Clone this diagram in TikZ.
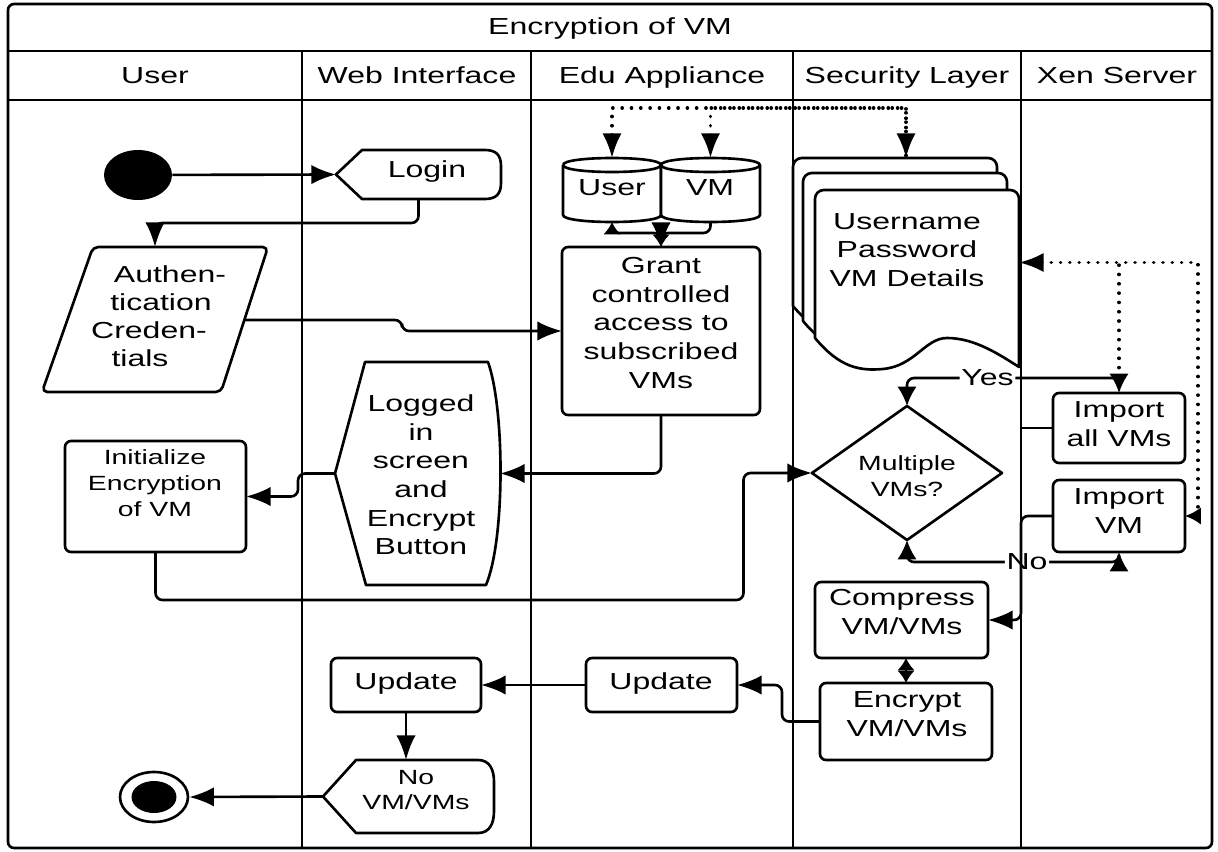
\documentclass[tikz,border=0pt]{standalone}
\usepackage{fontspec}
\setmainfont{Liberation Sans}[FakeStretch=1.38]
\usetikzlibrary{arrows.meta,shapes.geometric,fit}

\newcommand{\bigtxt}{\fontsize{13.2pt}{16.3pt}\selectfont}
\newcommand{\smalltxt}{\fontsize{11.7pt}{14.7pt}\selectfont}

\begin{document}
\begin{tikzpicture}[x=0.02cm, y=-0.02cm,
  ln/.style={line width=1.5pt},
  shp/.style={ln, draw, fill=white, line join=round},
  boxnode/.style={draw, ln, rounded corners=3.5pt, inner sep=0pt, outer sep=0pt},
  hold/.style={inner sep=0pt, outer sep=0pt},
  txt/.style={font=\bigtxt, align=center, inner sep=0pt},
  head/.style={font=\bigtxt, inner sep=0pt, anchor=base},
  stxt/.style={font=\smalltxt, align=center, inner sep=0pt},
  tip/.style={-{Latex[length=14pt,width=11pt]}},
  arr/.style={ln, tip, rounded corners=4pt},
  biarr/.style={ln, {Latex[length=11pt,width=11pt]}-{Latex[length=11pt,width=11pt]}, rounded corners=4pt},
  tinyarr/.style={ln, {Latex[length=7pt,width=10pt]}-{Latex[length=7pt,width=10pt]}},
  dots/.style={line width=2pt, dash pattern=on 0.1pt off 5.2pt, line cap=round},
  lbl/.style={fill=white, font=\bigtxt, inner sep=1pt}
]
\useasboundingbox (0,0) rectangle (1218,852);

% ---------- swimlane frame ----------
\draw[ln, rounded corners=3.5pt] (8,4) rectangle (1212,848);
\draw[ln] (8,51) -- (1212,51);
\draw[ln] (8,100) -- (1212,100);

\node[head] (title) at (610,34) {Encryption of VM};
\node[head] (h-user) at (155,83) {User};
\node[head] (h-web)  at (417,83) {Web Interface};
\node[head] (h-edu)  at (662,83) {Edu Appliance};
\node[head] (h-sec)  at (907,83) {Security Layer};
\node[head] (h-xen)  at (1117,83) {Xen Server};

% ---------- User lane ----------
\node[fill=black, ellipse, minimum width=1.36cm, minimum height=1.0cm, inner sep=0pt] (start) at (138,175) {};

\draw[shp, rounded corners=3pt] (93,247) -- (268,247) -- (221,392) -- (42,392) -- cycle;
\node[hold, fit={(42,247)(268,392)}] (auth) {};
\coordinate (authR) at (244,320);
\node[txt] (auth1) at (170,274) {Authen-};
\node[txt] (auth2) at (161,302) {tication};
\node[txt] (auth3) at (149,330) {Creden-};
\node[txt] (auth4) at (140,358) {tials};

\node[boxnode, fit={(65,441)(246,552)}] (init) {};
\node[stxt] (init-t) at (155,483) {Initialize\\Encryption\\of VM};

\node[draw, ln, ellipse, minimum width=1.36cm, minimum height=1.0cm, inner sep=0pt] (endc) at (154,797) {};
\node[fill=black, ellipse, minimum width=0.9cm, minimum height=0.64cm, inner sep=0pt] (endi) at (endc) {};

% ---------- Web Interface lane ----------
\draw[shp] (336,174.5) -- (362,150) -- (485,150)
  .. controls (496,150) and (501,155) .. (501,166) -- (501,183)
  .. controls (501,194) and (496,199) .. (485,199) -- (362,199) -- cycle;
\node[hold, fit={(336,150)(501,199)}] (login) {};
\node[txt] (login-t) at (427,172) {Login};

\draw[shp] (365,362) -- (488,362)
  .. controls (505,410) and (505,540) .. (486,585)
  -- (366,585) -- (335,473.5) -- cycle;
\node[hold, fit={(335,362)(500,585)}] (logged) {};
\node[txt] (logged-t) at (421,475) {Logged\\in\\screen\\and\\Encrypt\\Button};

\node[boxnode, fit={(331,658)(481,712)}] (upd1) {};
\node[txt] (upd1-t) at (406,683) {Update};

\draw[shp] (323,796.5) -- (356,760) -- (478,760)
  .. controls (490,760) and (494,770) .. (494,782) -- (494,811)
  .. controls (494,823) and (490,833) .. (478,833) -- (356,833) -- cycle;
\node[hold, fit={(323,760)(494,833)}] (novm) {};
\node[stxt] (novm-t) at (416,790) {No\\VM/VMs};

% ---------- Edu Appliance lane ----------
\draw[shp] (563,165) -- (563,215) .. controls (563,224.33) and (661,224.33) .. (661,215) -- (661,165);
\draw[shp] (563,165) .. controls (563,155.67) and (661,155.67) .. (661,165)
  .. controls (661,174.33) and (563,174.33) .. (563,165);
\node[hold, fit={(563,158)(661,222)}] (ucyl) {};
\node[txt] (ucyl-t) at (612,188) {User};

\draw[shp] (661,165) -- (661,215) .. controls (661,224.33) and (760,224.33) .. (760,215) -- (760,165);
\draw[shp] (661,165) .. controls (661,155.67) and (760,155.67) .. (760,165)
  .. controls (760,174.33) and (661,174.33) .. (661,165);
\node[hold, fit={(661,158)(760,222)}] (vcyl) {};
\node[txt] (vcyl-t) at (710,188) {VM};

\node[boxnode, fit={(562,247)(760,415)}] (grant) {};
\node[txt] (grant-t) at (661,323) {Grant\\controlled\\access to\\subscribed\\VMs};

\node[boxnode, fit={(586,658)(737,712)}] (upd2) {};
\node[txt] (upd2-t) at (661,683) {Update};

% ---------- Security Layer lane ----------
\foreach \dx/\dy in {-22/-32, -12/-17, 0/0} {
  \begin{scope}[shift={(\dx,\dy)}]
    \draw[shp] (815,338) [rounded corners=5pt] -- (815,190) -- (1019,190) [sharp corners] -- (1019,367)
      .. controls (1000,355) and (975,338) .. (947,338)
      .. controls (925,338) and (915,366) .. (883,369)
      .. controls (860,371) and (840,368) .. (815,338) -- cycle;
  \end{scope}
}
\node[hold, fit={(793,158)(1019,367)}] (doc) {};
\node[txt] (doc-t) at (907,250) {Username\\Password\\VM Details};

\draw[shp] (812,473) -- (907,406) -- (1002,473) -- (907,540) -- cycle;
\node[hold, fit={(812,406)(1002,540)}] (dia) {};
\node[stxt] (dia-t) at (907,476) {Multiple\\VMs?};

\node[boxnode, fit={(815,582)(988,658)}] (comp) {};
\node[txt] (comp-t) at (902,612) {Compress\\VM/VMs};

\node[boxnode, fit={(820,683)(992,760)}] (encr) {};
\node[txt] (encr-t) at (907,714) {Encrypt\\VM/VMs};

% ---------- Xen Server lane ----------
\node[boxnode, fit={(1053,393)(1185,463)}] (impall) {};
\node[txt] (impall-t) at (1119,424) {Import\\all VMs};

\node[boxnode, fit={(1053,480)(1185,552)}] (impvm) {};
\node[txt] (impvm-t) at (1119,511) {Import\\VM};

% ---------- lane separators ----------
\foreach \lx in {302,531,793,1021} {
  \draw[ln] (\lx,51) -- (\lx,848);
}

% ---------- control flow ----------
\draw[arr] (start) -- (login.west);
\draw[arr] (login.south) -- ++(0,24) -| (auth.north);
\draw[arr] (authR) -- ++(158,0) |- (grant.west);
\draw[arr] (vcyl.south) -- ++(0,11) -| (grant.north);
\draw[tinyarr, rounded corners=4pt] (ucyl.south) -- ++(0,11) -| (grant.north);
\draw[arr] (grant.south) |- (logged.east);
\draw[arr] (logged.west) -- ++(-37,0) |- (init.east);
\draw[arr] (init.south) -- ++(0,48) -- ++(588,0) |- (dia.west);
\draw[biarr] (dia.north) -- ++(0,-28) -- node[lbl, pos=0.38] (yes) {Yes} ++(212,0) -- (impall.north);
\draw[biarr] (dia.south) -- ++(0,22) -- node[lbl, pos=0.566] (no) {No} ++(212,0) -- (impvm.south);
\draw[ln] (impall.west) -- ++(-32,0);
\draw[arr] (impvm.west) -- ++(-32,0) |- (comp.east);
\draw[tinyarr] (encr.north |- comp.south) -- (encr.north);
\draw[arr] (encr.west) -- ++(-38,0) |- (upd2.east);
\draw[arr] (upd2.west) -- (upd1.east);
\draw[arr] (upd1.south) -- (upd1.south |- novm.north);
\draw[arr] (novm.west) -- (endc.east);

% ---------- data flow (dotted) ----------
\draw[dots, {Latex[length=14pt,width=11pt]}-{Latex[length=14pt,width=11pt]}] (ucyl.north) -- ++(0,-50) -| (doc.north);
\draw[dots, {Latex[length=14pt,width=11pt]}-] (vcyl.north) -- ++(0,-50) -| (doc.north);
\draw[dots, {Latex[length=14pt,width=11pt]}-{Latex[length=9pt,width=10pt]}] (doc.east) -- ++(179,0) |- (impvm.east);
\draw[dots] (impall.north) ++(0,-16) -- (impall.north |- doc.east);
\end{tikzpicture}
\end{document}
